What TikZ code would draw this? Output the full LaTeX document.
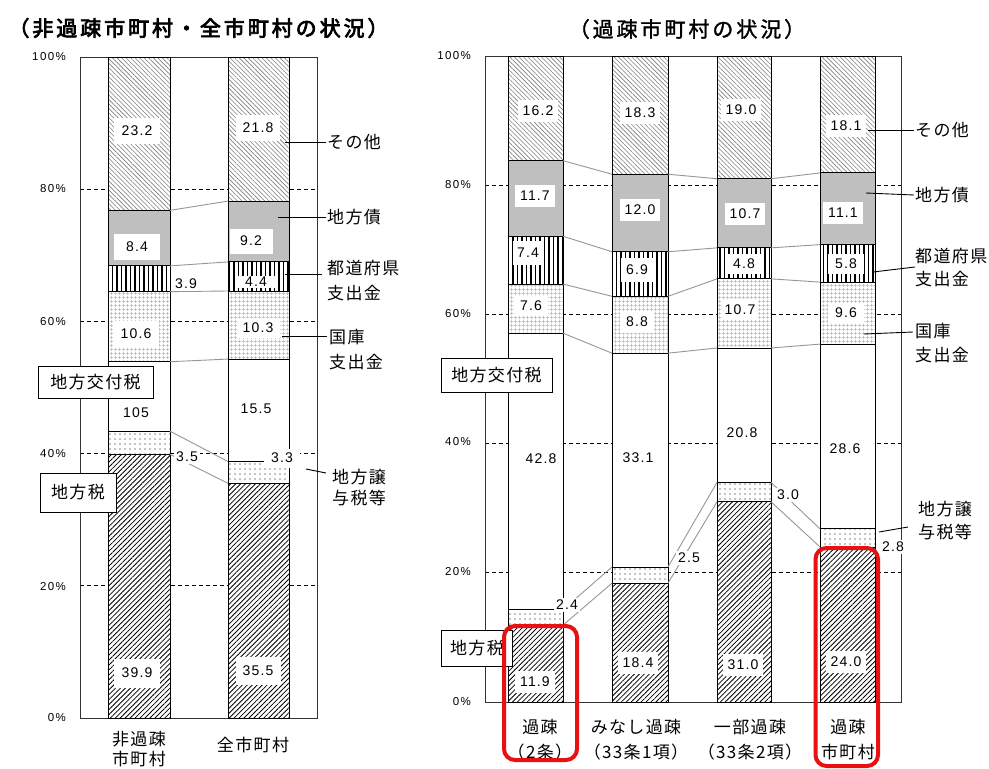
\documentclass[tikz,border=0pt]{standalone}
\usepackage{fontspec}
\setmainfont{Liberation Sans}
\newfontfamily\jp[LetterSpace=8]{Noto Sans CJK JP}
\newfontfamily\jpt[FakeBold=3.5,LetterSpace=14]{Noto Sans CJK JP}
\newfontfamily\jptr[FakeBold=1.5,LetterSpace=14]{Noto Sans CJK JP}
\newfontfamily\numf[LetterSpace=8]{Liberation Sans}
\newfontfamily\pctf[LetterSpace=12]{Liberation Sans}
\usetikzlibrary{patterns.meta}
\definecolor{hired}{RGB}{232,16,16}
\definecolor{connc}{RGB}{150,150,150}
\newcommand\sevenbar[9]{%
  \path[zei] (#1,0) rectangle (#2,#3);
  \path[jouyo] (#1,#3) rectangle (#2,#4);
  \path[koufu] (#1,#4) rectangle (#2,#5);
  \path[kokko] (#1,#5) rectangle (#2,#6);
  \path[todo] (#1,#6) rectangle (#2,#7);
  \path[sai] (#1,#7) rectangle (#2,#8);
  \path[sono] (#1,#8) rectangle (#2,#9);
  \foreach \q in {#3,#4,#5,#6,#7,#8} \draw[segl] (#1,\q) -- (#2,\q);
  \draw[segl] (#1,0) rectangle (#2,#9);
}
\tikzset{
  zei/.style={fill=white, postaction={pattern={Lines[angle=45,distance=3.5pt,line width=0.8pt]}, pattern color=black}},
  jouyo/.style={fill=white, postaction={pattern={Dots[distance=5pt,radius=0.6pt]}, pattern color=black}},
  koufu/.style={fill=white},
  kokko/.style={fill=white, postaction={pattern={Hatch[angle=0,distance=4pt,line width=0.8pt]}, pattern color=black!30}},
  todo/.style={fill=white, postaction={pattern={Lines[angle=90,distance=4.5pt,line width=1.1pt]}, pattern color=black}},
  sai/.style={fill=black!25},
  sono/.style={fill=white, postaction={pattern={Lines[angle=-45,distance=3.2pt,line width=0.6pt]}, pattern color=black!50}},
  segl/.style={draw=black, line width=0.9pt},
  frm/.style={draw=black!80, line width=0.9pt},
  gridl/.style={draw=black, line width=0.7pt, dash pattern=on 4pt off 3pt},
  conn/.style={draw=connc, line width=0.9pt},
  lead/.style={draw=black, line width=0.9pt},
  vlL/.style={fill=white, inner sep=0pt, minimum width=46pt, minimum height=26pt, font=\numf\fontsize{14}{14}\selectfont},
  vlR/.style={fill=white, inner sep=0pt, minimum width=40pt, minimum height=22pt, font=\numf\fontsize{14}{14}\selectfont},
  vls/.style={fill=white, inner sep=2pt, font=\numf\fontsize{14}{14}\selectfont},
  pct/.style={anchor=east, inner sep=0pt, font=\pctf\fontsize{11.5}{12}\selectfont},
  leg/.style={anchor=west, inner sep=1pt, font=\jp\fontsize{17}{20}\selectfont},
  cat/.style={inner sep=0pt, font=\jp\fontsize{17}{20}\selectfont},
  tagbox/.style={draw=black, line width=0.9pt, fill=white, inner sep=0pt, font=\jp\fontsize{17}{20}\selectfont},
  ttl/.style={inner sep=0pt},
  redbox/.style={draw=hired, line width=4pt, rounded corners=11pt}
}
\begin{document}
\begin{tikzpicture}[x=1pt,y=-1pt]
\useasboundingbox[fill=white] (0,0) rectangle (989,769);
% titles
\node[ttl] (t1) at (198.5,28) {\jpt\fontsize{21}{24}\selectfont （非過疎市町村・全市町村の状況）};
\node[ttl] (t2) at (687,29) {\jptr\fontsize{21}{24}\selectfont （過疎市町村の状況）};

% ---------------- left chart
\begin{scope}[shift={(0pt,-718pt)}, y=6.61pt]
  \foreach \p in {20,40,60,80} \draw[gridl] (80,\p) -- (317,\p);
  \draw[frm] (80,0) rectangle (317,100);
  \sevenbar{108}{170}{39.9}{43.4}{53.9}{64.5}{68.4}{76.8}{100}
  \sevenbar{228}{289}{35.5}{38.8}{54.3}{64.6}{69.0}{78.2}{100}
  \draw[conn] (170,39.9) -- (228,35.5);
  \draw[conn] (170,43.4) -- (228,38.8);
  \draw[conn] (170,53.9) -- (228,54.3);
  \draw[conn] (170,64.5) -- (228,64.6);
  \draw[conn] (170,68.4) -- (228,69.0);
  \draw[conn] (170,76.8) -- (228,78.2);
\end{scope}

% ---------------- right chart
\begin{scope}[shift={(0pt,-702pt)}, y=6.46pt]
  \foreach \p in {20,40,60,80} \draw[gridl] (485,\p) -- (901,\p);
  \draw[frm] (485,0) rectangle (901,100);
  \sevenbar{508}{563}{11.9}{14.3}{57.1}{64.7}{72.1}{83.8}{100}
  \sevenbar{612}{668}{18.4}{20.9}{54.0}{62.8}{69.7}{81.7}{100}
  \sevenbar{717}{771}{31.0}{34.0}{54.8}{65.5}{70.3}{81.0}{100}
  \sevenbar{820}{875}{24.0}{26.8}{55.4}{65.0}{70.8}{81.9}{100}
  % B1 -> B2
  \draw[conn] (563,11.9) -- (612,18.4);
  \draw[conn] (563,14.3) -- (612,20.9);
  \draw[conn] (563,57.1) -- (612,54.0);
  \draw[conn] (563,64.7) -- (612,62.8);
  \draw[conn] (563,72.1) -- (612,69.7);
  \draw[conn] (563,83.8) -- (612,81.7);
  % B2 -> B3
  \draw[conn] (668,18.4) -- (717,31.0);
  \draw[conn] (668,20.9) -- (717,34.0);
  \draw[conn] (668,54.0) -- (717,54.8);
  \draw[conn] (668,62.8) -- (717,65.5);
  \draw[conn] (668,69.7) -- (717,70.3);
  \draw[conn] (668,81.7) -- (717,81.0);
  % B3 -> B4
  \draw[conn] (771,31.0) -- (820,24.0);
  \draw[conn] (771,34.0) -- (820,26.8);
  \draw[conn] (771,54.8) -- (820,55.4);
  \draw[conn] (771,65.5) -- (820,65.0);
  \draw[conn] (771,70.3) -- (820,70.8);
  \draw[conn] (771,81.0) -- (820,81.9);
\end{scope}

% ---------------- axis labels
\node[pct] (la100) at (66,57) {100\%};
\node[pct] (la80) at (66,189) {80\%};
\node[pct] (la60) at (66,322) {60\%};
\node[pct] (la40) at (66,454) {40\%};
\node[pct] (la20) at (66,587) {20\%};
\node[pct] (la0) at (66,718) {0\%};
\node[pct] (ra100) at (471,56) {100\%};
\node[pct] (ra80) at (471,185) {80\%};
\node[pct] (ra60) at (471,314) {60\%};
\node[pct] (ra40) at (471,442) {40\%};
\node[pct] (ra20) at (471,572) {20\%};
\node[pct] (ra0) at (471,702) {0\%};

% ---------------- left value labels
\node[vlL] (l11) at (137,131) {23.2};
\node[vlL] (l12) at (137,247) {8.4};
\node[vls] (l13) at (186,284) {3.9};
\node[vlL] (l14) at (136,334) {10.6};
\node[vls,fill=none] (l15) at (136,413) {105};
\node[vls] (l16) at (187,457) {3.5};
\node[vlL, minimum height=29pt] (l17) at (137,673) {39.9};
\node[vlL, minimum width=44pt] (l21) at (258,128) {21.8};
\node[vlL, minimum width=43pt, minimum height=25pt] (l22) at (251,241) {9.2};
\node[vlL, minimum width=42pt, minimum height=12pt] (l23) at (256,282) {4.4};
\node[vlL, minimum width=43pt, minimum height=20pt] (l24) at (258,328) {10.3};
\node[vls,fill=none] (l25) at (256,409) {15.5};
\node[vls, minimum width=36pt, minimum height=19pt] (l26) at (282,458) {3.3};
\node[vlL, minimum width=45pt, minimum height=28pt] (l27) at (258,671) {35.5};

% ---------------- right value labels
\node[vlR] (r11) at (538,111) {16.2};
\node[vlR] (r12) at (535,196) {11.7};
\node[vlR, minimum width=30pt, minimum height=24pt] (r13) at (528,253) {7.4};
\node[vlR, minimum width=34pt, minimum height=20pt] (r14) at (531,306) {7.6};
\node[vls,fill=none] (r15) at (541,459) {42.8};
\node[vlR] (r16) at (535,682) {11.9};
\node[vls] (r17) at (567,605) {2.4};
\node[vlR] (r21) at (640,113) {18.3};
\node[vlR] (r22) at (640,210) {12.0};
\node[vlR, minimum width=32pt, minimum height=24pt] (r23) at (637,270) {6.9};
\node[vlR, minimum width=34pt, minimum height=22pt] (r24) at (637,322) {8.8};
\node[vls,fill=none] (r25) at (638,458) {33.1};
\node[vlR] (r26) at (638,663) {18.4};
\node[vls] (r27) at (689,558) {2.5};
\node[vlR] (r31) at (741,110) {19.0};
\node[vlR] (r32) at (745,214) {10.7};
\node[vlR, minimum width=36pt, minimum height=20pt] (r33) at (744,264) {4.8};
\node[vlR, minimum width=36pt, minimum height=20pt] (r34) at (740,310) {10.7};
\node[vls,fill=none] (r35) at (742,433) {20.8};
\node[vlR] (r36) at (743,665) {31.0};
\node[vls] (r37) at (788,495) {3.0};
\node[vlR] (r41) at (846,126) {18.1};
\node[vlR] (r42) at (843,213) {11.1};
\node[vlR, minimum width=36pt, minimum height=20pt] (r43) at (846,264) {5.8};
\node[vlR, minimum width=36pt, minimum height=20pt] (r44) at (846,313) {9.6};
\node[vls,fill=none] (r45) at (845,449) {28.6};
\node[vlR] (r46) at (846,662) {24.0};
\node[vls] (r47) at (893,547) {2.8};

% ---------------- tag boxes
\node[tagbox, minimum width=115pt, minimum height=32pt] (tagLk) at (95.5,382) {地方交付税};
\node[tagbox, minimum width=76pt, minimum height=39pt] (tagLz) at (78,492.5) {地方税};
\node[tagbox, minimum width=111pt, minimum height=34pt] (tagRk) at (496.5,375) {地方交付税};
\node[tagbox, minimum width=71pt, minimum height=36pt] (tagRz) at (477,648) {地方税};

% ---------------- left legend
\node[leg] (gL1) at (326,142) {その他};
\node[leg] (gL2) at (326,217) {地方債};
\node[leg] (gL3a) at (326,268) {都道府県};
\node[leg] (gL3b) at (326,293) {支出金};
\node[leg] (gL4a) at (328,337) {国庫};
\node[leg] (gL4b) at (328,362) {支出金};
\node[leg] (gL5a) at (331,477) {地方譲};
\node[leg] (gL5b) at (331,498) {与税等};
\coordinate (pL1) at (285,142);
\coordinate (pL2) at (278,217);
\coordinate (pL3) at (285,274);
\coordinate (qL3) at (322,274);
\coordinate (pL4) at (282,336);
\coordinate (qL4) at (327,336);
\coordinate (pL5) at (306,469);
\coordinate (qL5) at (326,473);
\draw[lead] (pL1) -- (gL1.west);
\draw[lead] (pL2) -- (gL2.west);
\draw[lead] (pL3) -- (qL3);
\draw[lead] (pL4) -- (qL4);
\draw[lead] (pL5) -- (qL5);

% ---------------- right legend
\node[leg] (gR1) at (914,130) {その他};
\node[leg] (gR2) at (914,195) {地方債};
\node[leg] (gR3a) at (914,256) {都道府県};
\node[leg] (gR3b) at (914,279) {支出金};
\node[leg] (gR4a) at (914,331) {国庫};
\node[leg] (gR4b) at (914,355) {支出金};
\node[leg] (gR5a) at (917,509) {地方譲};
\node[leg] (gR5b) at (917,532) {与税等};
\coordinate (pR1) at (868,130);
\coordinate (pR2) at (866,193);
\coordinate (pR3) at (873,272);
\coordinate (qR3) at (915,267);
\coordinate (pR4) at (864,334);
\coordinate (qR4) at (913,332);
\coordinate (pR5) at (879,532);
\coordinate (qR5) at (908,527);
\draw[lead] (pR1) -- (gR1.west);
\draw[lead] (pR2) -- (gR2.west);
\draw[lead] (pR3) -- (qR3);
\draw[lead] (pR4) -- (qR4);
\draw[lead] (pR5) -- (qR5);

% ---------------- category labels
\node[cat] (cL1a) at (139,739) {非過疎};
\node[cat] (cL1b) at (139,759) {市町村};
\node[cat] (cL2) at (253,745) {全市町村};
\node[cat] (cR1a) at (540,727) {過疎};
\node[cat] (cR1b) at (540,752) {（2条）};
\node[cat] (cR2a) at (636,727) {みなし過疎};
\node[cat] (cR2b) at (636,752) {（33条1項）};
\node[cat] (cR3a) at (750,727) {一部過疎};
\node[cat] (cR3b) at (750,752) {（33条2項）};
\node[cat] (cR4a) at (848,727) {過疎};
\node[cat] (cR4b) at (848,752) {市町村};

% ---------------- red highlight boxes
\draw[redbox] (504,626) rectangle (577,760);
\draw[redbox] (815.5,548) rectangle (878,766);
\end{tikzpicture}
\end{document}
